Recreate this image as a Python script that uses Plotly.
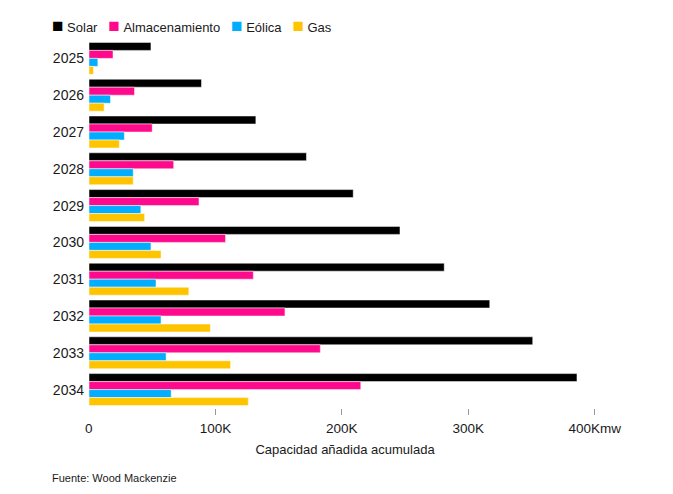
import plotly.graph_objects as go

years = ["2025", "2026", "2027", "2028", "2029", "2030", "2031", "2032", "2033", "2034"]
series_names = ["Solar", "Almacenamiento", "Eólica", "Gas"]
solar = [49000, 89000, 132000, 172000, 209000, 246000, 281000, 317000, 351000, 386000]
almacenamiento = [19000, 36000, 50000, 67000, 87000, 108000, 130000, 155000, 183000, 215000]
eolica = [7000, 17000, 28000, 35000, 41000, 49000, 53000, 57000, 61000, 65000]
gas = [3500, 12000, 24000, 35000, 44000, 57000, 79000, 96000, 112000, 126000]
colors = ["#000000", "#ff0a8c", "#00adfe", "#ffc400"]
tick_vals = [100000, 200000, 300000, 400000]
tick_text = ["100K", "200K", "300K", "400Kmw"]
x_title = "Capacidad añadida acumulada"
source_text = "Fuente: Wood Mackenzie"

FONT = "Liberation Sans, Arial, sans-serif"

fig = go.Figure()
for name, vals, col in zip(series_names, [solar, almacenamiento, eolica, gas], colors):
    fig.add_trace(go.Bar(
        y=years, x=vals, name=name, orientation="h",
        marker=dict(color=col, line=dict(color="white", width=0.5)),
    ))

legend_html = "\u00a0\u00a0\u00a0".join(
    f"<span style='color:{c};font-size:19px'>■</span>\u00a0{n}" for n, c in zip(series_names, colors)
)

fig.update_layout(
    width=665, height=486,
    margin=dict(l=81, r=72, t=32, b=86),
    paper_bgcolor="white", plot_bgcolor="white",
    barmode="group", bargap=0.13, bargroupgap=0,
    showlegend=False,
    font=dict(family=FONT, size=13, color="#1a1a1a"),
    xaxis=dict(
        range=[0, 405000], tickvals=tick_vals, ticktext=tick_text,
        ticks="outside", ticklen=6, tickcolor="#999999", tickwidth=1,
        ticklabelstandoff=2,
        showgrid=False, zeroline=False, showline=False,
        title=dict(text=x_title, font=dict(size=13, color="#1a1a1a"), standoff=9),
        tickfont=dict(size=13.5, color="#1a1a1a"),
    ),
    yaxis=dict(
        autorange="reversed", showgrid=False, zeroline=False, showline=False,
        ticks="", ticklabelstandoff=4, tickfont=dict(size=14, color="#1a1a1a"),
    ),
    annotations=[
        dict(text="0", x=0, xref="x", y=0, yref="paper", yanchor="top", yshift=-11,
             showarrow=False, font=dict(size=13.5, color="#1a1a1a")),
        dict(text=legend_html, x=-0.076, xref="paper", y=1.04, yref="paper",
             xanchor="left", yanchor="middle", showarrow=False,
             font=dict(size=13, color="#1a1a1a")),
        dict(text=source_text, x=-0.076, xref="paper", y=-0.19, yref="paper",
             xanchor="left", yanchor="middle", showarrow=False,
             font=dict(size=11, color="#1a1a1a")),
    ],
)

fig.write_html("out.html")
